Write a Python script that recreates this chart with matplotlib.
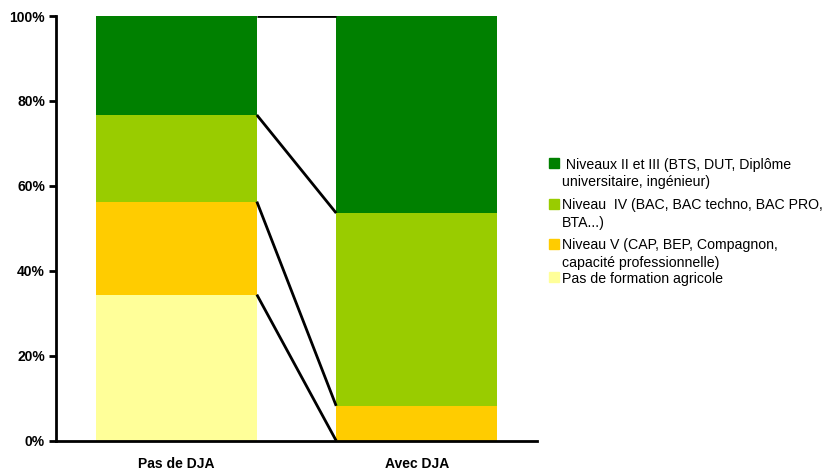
import matplotlib.pyplot as plt
from matplotlib.patches import Rectangle
import numpy as np

plt.rcParams['font.family'] = ['Liberation Sans', 'DejaVu Sans']

# data (percent)
categories = ['Pas de DJA', 'Avec DJA']
series_names = [
    'Pas de formation agricole',
    'Niveau V (CAP, BEP, Compagnon,\ncapacité professionnelle)',
    'Niveau  IV (BAC, BAC techno, BAC PRO,\nBTA...)',
    ' Niveaux II et III (BTS, DUT, Diplôme\nuniversitaire, ingénieur)',
]
pas_formation = [34.4, 0.0]
niveau_v = [21.9, 8.2]
niveau_iv = [20.4, 45.4]
niveaux_ii_iii = [23.3, 46.4]
colors = ['#FFFF99', '#FFCC00', '#99CC00', '#008000']

W, H = 827, 470
fig = plt.figure(figsize=(W / 100, H / 100), dpi=100)
ax = fig.add_axes([56 / W, 1 - 440.7 / H, (537 - 56) / W, 424.7 / H])

x = np.arange(len(categories))
width = 0.67
bottom = np.zeros(len(categories))
for vals, col, name in zip([pas_formation, niveau_v, niveau_iv, niveaux_ii_iii], colors, series_names):
    vals = np.array(vals)
    ax.bar(x, vals, width, bottom=bottom, color=col, label=name, zorder=2)
    bottom = bottom + vals
    # series lines between bars
    ax.plot([x[0] + width / 2, x[1] - width / 2], [bottom[0], bottom[1]],
            color='black', lw=2, zorder=3, solid_capstyle='butt')

ax.set_xlim(-0.5, 1.5)
ax.set_ylim(0, 100)
ax.set_yticks(np.arange(0, 101, 20))
ax.set_yticklabels([f'{v}%' for v in range(0, 101, 20)], fontweight='bold', fontsize=10)
ax.set_xticks(x)
ax.set_xticklabels(categories, fontweight='bold', fontsize=10)
ax.tick_params(axis='x', length=0, pad=11.5)
ax.tick_params(axis='y', length=5, width=2, pad=3)
for s in ['top', 'right']:
    ax.spines[s].set_visible(False)
for s in ['left', 'bottom']:
    ax.spines[s].set_linewidth(2)
ax.patch.set_alpha(0)

# legend drawn by hand so the marker sits on the first line of each entry
row_y = [277, 244, 204, 163]   # pixel centre of first line, same order as series
line_gap = 17.5
for name, col, y0 in zip(series_names, colors, row_y):
    fig.patches.append(Rectangle((549 / W, 1 - (y0 + 5) / H), 10 / W, 10 / H,
                                 transform=fig.transFigure, color=col))
    for i, line in enumerate(name.split('\n')):
        fig.text(562 / W, 1 - (y0 + i * line_gap) / H, line, fontsize=10.2,
                 va='center_baseline', ha='left')

fig.savefig('out.png', dpi=100)
